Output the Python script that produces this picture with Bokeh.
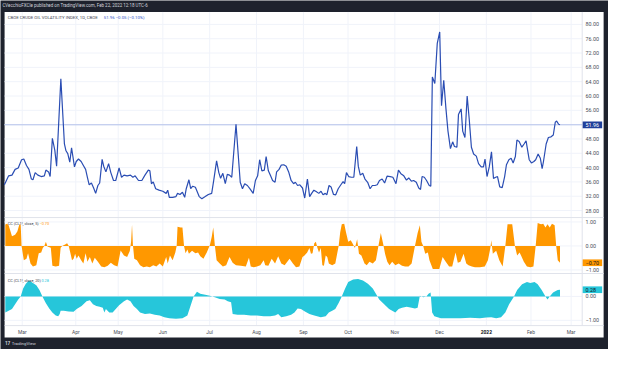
from bokeh.plotting import figure
from bokeh.models import Range1d
from bokeh.core.properties import value
from bokeh.embed import file_html
from bokeh.resources import INLINE

# ---------------- data ----------------
# trading-day index of each reading, and CBOE crude oil volatility index value
vix_bar = [0.0,1.9,3.4,4.8,6.2,7.7,8.7,9.9,11.0,12.1,
           12.8,13.8,15.0,16.5,17.9,18.6,19.8,20.5,21.5,22.6,
           23.4,25.3,26.9,27.6,28.4,29.3,30.1,30.7,31.4,32.2,
           33.2,34.4,35.4,36.4,37.2,38.0,39.0,40.0,40.9,41.9,
           42.7,43.8,44.5,45.5,46.7,47.7,48.9,49.9,51.4,52.5,
           53.6,55.0,56.5,57.6,58.6,60.1,61.6,63.0,64.5,65.2,
           65.9,66.7,67.8,69.3,71.0,72.5,73.2,73.9,75.4,76.9,
           77.6,78.7,79.8,80.8,81.5,82.7,83.5,84.4,85.6,87.3,
           88.5,90.0,91.4,92.9,93.9,95.1,96.1,96.9,97.9,99.0,
           99.9,100.9,101.9,103.8,105.7,106.7,107.7,108.9,110.0,111.5,
           112.5,113.5,114.4,115.4,116.5,117.3,118.3,119.3,120.2,121.3,
           122.0,123.1,124.1,125.2,126.3,127.4,128.5,129.6,130.4,131.4,
           132.4,133.6,134.6,135.8,136.8,137.7,138.7,139.7,140.9,141.9,
           142.8,143.8,144.5,145.5,146.4,147.5,148.5,149.6,150.8,151.8,
           152.5,153.3,154.3,155.5,156.6,157.9,158.6,159.5,160.6,161.6,
           162.8,163.9,164.9,166.1,167.1,168.1,169.3,170.4,171.5,172.9,
           174.1,175.5,176.6,177.7,179.0,180.2,181.2,182.4,183.4,184.6,
           185.7,186.5,187.2,188.2,189.2,190.4,191.1,191.8,192.9,194.0,
           195.1,195.9,196.9,197.9,198.8,199.9,200.9,201.7,202.8,203.5,
           204.7,205.4,206.4,207.4,208.3,209.3,210.3,211.5,212.5,213.7,
           214.7,215.4,216.3,217.3,218.3,219.2,220.2,221.0,222.0,223.1,
           224.2,225.0,226.1,227.1,228.0,229.0,229.7,230.7,231.9,232.9,
           233.8,234.5,235.2,236.2,237.3,238.1,239.2,240.2,241.0,241.6,
           242.8,243.8,245.0,246.0,246.9,247.5,248.4,249.0]
vix_val = [35.2,37.7,37.9,39.5,39.9,42.2,42.4,40.6,39.5,36.8,
           36.6,38.6,37.9,37.5,37.7,39.3,38.8,37.5,48.2,44.8,
           40.4,64.8,46.6,44.7,43.9,41.5,45.5,43.1,40.2,41.7,
           42.4,41.7,40.6,39.5,37.3,35.2,35.7,34.3,32.8,35.0,
           35.7,42.3,40.4,38.8,41.1,38.6,36.4,36.4,39.9,37.3,
           37.9,37.7,37.9,37.3,37.7,36.4,36.4,37.9,39.3,39.1,
           35.5,36.0,34.1,33.7,33.4,32.8,33.7,31.7,31.7,31.9,
           32.8,32.5,33.1,31.7,34.1,36.6,34.1,34.8,34.5,31.9,
           31.3,31.9,32.5,32.8,36.8,41.9,38.6,37.0,38.4,35.5,
           38.1,37.9,37.3,52.1,35.9,34.1,35.5,35.0,34.1,32.8,
           36.4,37.7,42.2,39.1,39.3,43.1,39.1,37.7,36.4,35.9,
           38.8,39.5,40.7,40.8,40.4,38.8,36.4,35.5,35.9,35.0,
           35.2,34.3,31.5,36.8,31.9,32.8,33.7,33.3,32.8,33.4,
           32.4,32.8,32.4,35.0,34.6,32.5,32.4,34.1,35.2,36.1,
           35.5,38.6,37.5,37.3,37.3,45.9,40.4,37.9,38.4,36.8,
           35.9,34.1,35.0,35.0,35.2,36.4,36.8,35.7,37.6,37.5,
           37.3,35.5,39.3,38.3,37.7,36.5,37.1,36.2,36.4,35.9,
           34.3,33.9,37.5,37.3,36.4,35.0,34.8,65.3,63.5,74.7,
           77.9,57.3,64.4,56.4,50.2,45.3,47.2,45.9,45.7,54.8,
           56.4,50.2,48.4,60.0,53.7,45.7,43.8,43.2,41.1,40.2,
           40.2,42.4,37.5,40.2,44.4,37.0,37.3,37.5,34.6,34.4,
           37.5,40.8,42.2,42.6,41.3,43.1,47.7,47.3,45.7,46.6,
           47.5,44.8,42.2,41.3,41.7,42.2,43.8,42.6,39.7,41.7,
           46.6,48.4,48.6,49.1,52.7,53.0,52.1,51.96]

# correlation coefficient CL1!, 5-period
cc5_bar = [0.4,1.2,1.9,3.4,4.8,5.8,6.7,7.3,7.7,8.7,
           9.9,10.6,11.7,12.8,14.3,15.4,16.5,17.2,17.9,18.6,
           19.3,20.8,21.5,23.0,24.5,25.2,25.9,27.4,28.1,28.8,
           29.6,30.3,31.0,31.7,32.4,33.2,34.4,35.4,36.4,37.2,
           38.3,39.4,40.5,41.9,43.4,44.8,46.3,47.7,49.2,50.7,
           52.1,53.6,55.0,56.2,56.8,57.2,57.6,58.2,59.4,60.8,
           62.3,63.8,65.2,66.7,68.1,69.6,71.0,72.5,73.2,74.2,
           75.4,76.6,77.2,77.6,79.0,79.8,80.5,81.2,82.0,82.7,
           84.1,85.6,86.8,87.8,89.2,90.7,92.1,92.9,93.6,94.3,
           95.1,96.5,97.9,99.4,100.9,102.3,103.8,106.0,108.2,109.6,
           110.4,111.8,113.2,114.7,116.2,116.9,118.3,119.8,121.3,122.7,
           124.1,125.6,127.8,129.3,130.7,132.2,133.6,134.5,135.7,136.7,
           137.4,138.1,138.9,139.6,140.3,141.0,141.8,142.5,143.2,144.0,
           144.7,145.4,146.9,148.3,149.8,150.5,151.2,152.3,153.1,154.1,
           155.2,156.0,157.1,158.1,158.9,160.0,161.4,162.4,163.6,165.1,
           166.5,167.7,168.7,169.7,170.6,171.6,172.6,173.8,175.2,176.7,
           178.2,179.6,181.1,182.5,184.0,185.2,186.2,186.9,187.7,188.6,
           189.8,190.5,192.0,193.4,194.9,196.4,197.8,199.3,200.7,202.2,
           203.2,204.4,205.8,207.0,208.0,209.5,210.9,213.1,215.3,216.7,
           217.8,218.2,218.9,220.4,221.8,223.3,224.5,225.5,227.6,228.8,
           229.8,230.9,231.7,232.8,234.2,235.7,237.1,238.1,239.0,240.5,
           241.5,242.5,243.4,244.4,245.4,246.6,247.3,248.0,249.0]
cc5_val = [0.89,0.93,0.86,0.40,0.47,0.60,0.89,0.89,0.0,-0.60,
           -0.53,-0.30,-0.73,-0.86,-0.80,-0.30,-0.27,-0.09,0.0,0.17,
           -0.02,-0.07,-0.83,-0.86,-0.83,-0.07,0.0,0.07,0.11,0.01,
           -0.30,-0.60,-0.53,-0.33,-0.53,-0.40,-0.60,-0.73,-0.30,-0.66,
           -0.46,-0.73,-0.49,-0.66,-0.86,-0.89,-0.83,-0.70,-0.80,-0.86,
           -0.19,-0.40,-0.46,-0.21,0.20,0.89,0.04,-0.53,-0.60,-0.80,
           -0.89,-0.86,-0.89,-0.80,-0.86,-0.73,-0.86,-0.46,-0.73,-0.40,
           -0.60,-0.27,0.0,0.80,0.77,0.77,0.0,-0.30,-0.15,-0.33,
           -0.20,-0.30,-0.27,-0.43,-0.53,-0.27,0.04,0.37,0.77,0.04,
           -0.60,-0.73,-0.86,-0.80,-0.46,-0.70,-0.80,-0.83,-0.86,-0.49,
           -0.86,-0.89,-0.86,-0.80,-0.60,-0.80,-0.83,-0.53,-0.73,-0.43,
           -0.73,-0.80,-0.53,-0.73,-0.89,-0.86,-0.46,-0.40,-0.27,-0.09,
           -0.33,-0.30,0.11,0.17,-0.09,-0.27,-0.09,-0.80,-0.83,-0.40,
           -0.46,-0.73,-0.80,-0.73,0.0,0.57,0.90,0.93,0.57,0.17,
           0.24,0.11,-0.09,0.28,-0.33,-0.40,-0.73,-0.80,-0.66,-0.73,
           -0.60,0.04,0.54,0.11,-0.33,-0.66,-0.80,-0.66,-0.80,-0.73,
           -0.83,-0.86,-0.86,-0.73,0.0,0.54,0.86,0.17,0.0,-0.33,
           -0.27,-0.60,-0.96,-0.96,-0.96,-0.46,-0.66,-0.86,-0.86,-0.27,
           -0.70,-0.66,-0.33,-0.73,-0.80,-0.86,-0.89,-0.89,-0.86,-0.60,
           -0.09,0.24,-0.33,-0.20,-0.60,-0.86,0.0,0.90,0.90,0.0,
           -0.40,-0.27,-0.43,-0.66,-0.86,-0.89,-0.86,0.0,0.96,0.90,
           0.93,0.77,0.90,0.77,0.93,0.86,0.0,-0.60,-0.70]

# correlation coefficient CL1!, 20-period
cc20_bar = [0.4,1.9,3.4,4.8,6.2,7.3,8.4,9.6,11.0,12.8,
            14.3,15.7,17.2,18.6,20.1,21.5,23.0,24.1,24.8,25.2,
            26.6,28.8,31.0,32.4,34.6,36.8,38.3,39.7,41.2,42.7,
            44.1,44.8,45.5,47.0,48.5,49.9,51.4,53.6,55.0,56.5,
            57.9,59.4,60.8,63.0,65.2,67.4,69.6,71.7,73.9,76.9,
            79.8,82.0,83.4,84.8,86.3,87.8,90.0,92.1,94.3,96.5,
            98.7,100.1,101.6,102.3,104.5,107.4,110.4,113.2,116.2,119.1,
            121.3,122.7,124.1,126.3,128.5,130.0,131.4,132.9,134.5,136.7,
            138.9,141.8,144.0,145.4,146.9,148.3,149.8,151.2,152.7,154.1,
            156.3,158.5,160.7,162.9,165.1,166.5,168.0,170.2,172.4,175.2,
            176.7,178.2,180.3,182.5,184.0,185.2,186.2,187.7,189.1,190.1,
            191.0,191.7,192.7,195.6,200.0,204.4,208.7,213.1,216.0,218.2,
            220.4,222.6,224.5,226.2,228.4,229.8,232.0,234.2,235.7,237.6,
            239.0,240.8,242.5,243.4,244.4,245.9,247.3,248.0,249.0]
cc20_val = [-0.67,-0.60,-0.53,-0.33,-0.13,0.0,0.33,0.53,0.67,0.56,
            0.47,0.27,-0.03,-0.29,-0.51,-0.67,-0.80,-0.83,-0.73,-0.60,
            -0.60,-0.63,-0.64,-0.53,-0.40,-0.20,-0.16,-0.33,-0.40,-0.43,
            -0.47,-0.67,-0.53,-0.67,-0.67,-0.53,-0.37,-0.20,-0.13,-0.20,
            -0.40,-0.53,-0.67,-0.73,-0.71,-0.77,-0.80,-0.87,-0.91,-0.93,
            -0.91,-0.80,-0.40,0.0,0.20,0.11,0.07,0.03,-0.03,-0.11,
            -0.13,-0.20,-0.24,-0.73,-0.77,-0.77,-0.80,-0.80,-0.83,-0.83,
            -0.80,-0.73,-0.87,-0.83,-0.77,-0.67,-0.51,-0.53,-0.62,-0.73,
            -0.80,-0.87,-0.83,-0.67,-0.60,-0.53,-0.27,0.0,0.33,0.60,
            0.71,0.73,0.67,0.53,0.33,0.11,-0.13,-0.33,-0.53,-0.67,
            -0.53,-0.47,-0.43,-0.47,-0.51,-0.47,0.03,-0.03,0.0,0.11,
            0.16,-0.67,-0.83,-0.91,-0.91,-0.91,-0.89,-0.91,-0.88,-0.87,
            -0.91,-0.87,-0.67,-0.33,0.0,0.27,0.51,0.60,0.56,0.60,
            0.51,0.27,0.0,-0.13,0.0,0.16,0.24,0.27,0.28]

month_pos = [8, 32, 51, 71, 92, 113, 134, 154, 175, 195, 216, 236, 254]
month_lbl = ["Mar", "Apr", "May", "Jun", "Jul", "Aug", "Sep", "Oct", "Nov", "Dec", "2022", "Feb", "Mar"]
price_ticks = [28, 32, 36, 40, 44, 48, 52, 56, 60, 64, 68, 72, 76, 80]
cc5_ticks = [1.0, 0.0, -1.0]
cc20_ticks = [0.0, -1.0]
last_vix, chg_vix, pct_vix = 51.96, -0.05, -0.10
last_cc5, last_cc20 = -0.70, 0.28

header_text = "CVecchioFXCle published on TradingView.com, Feb 22, 2022 12:18 UTC-6"
main_title = "CBOE CRUDE OIL VOLATILITY INDEX, 1D, CBOE"
cc5_title = "CC (CL1!, close, 5)"
cc20_title = "CC (CL1!, close, 20)"

# ---------------- layout (reference pixel geometry) ----------------
W, H = 608, 349
RW, RH = 624, 365
SX, SY = W / RW, H / RH
X0, PXB = 4.0, 2.29           # ref px of bar 0, ref px per bar

def bar_at(rx):
    return (rx - X0) / PXB

def main_at(ry):
    return 80 - (ry - 25) / 3.744

def cc5_at(ry):
    return (256.7 - ry) / 25.1

def cc20_at(ry):
    return (309.5 - ry) / 25.0

DARK = "#1e222d"
GRID = "#f0f3fa"
SEP = "#e0e3eb"
AXTXT = "#4a4e59"
BLUE = "#2a4db3"
ORANGE = "#ff9800"
CYAN = "#26c6da"
FONT = "Roboto"

p = figure(width=W, height=H, output_backend="svg", toolbar_location=None,
           x_axis_location=None, y_axis_location=None, title=None, min_border=0,
           x_range=Range1d(bar_at(0), bar_at(RW)),
           y_range=Range1d(main_at(RH), main_at(0)),
           background_fill_color=DARK, border_fill_color=DARK,
           outline_line_color=None)
p.grid.visible = False
p.extra_y_ranges = {"cc5": Range1d(cc5_at(RH), cc5_at(0)),
                    "cc20": Range1d(cc20_at(RH), cc20_at(0))}

L_EDGE, R_EDGE, T_EDGE, B_EDGE = 4.2, 619.0, 12.0, 352.5
AX_X = 597.0

def txt(x, y, s, size, color, align="left", baseline="middle", style="normal", rng="default"):
    p.text(x=x, y=y, text=s, text_font=value(FONT),
           text_font_size=value(f"{size * SY:.2f}px"), text_color=color,
           text_align=align, text_baseline=baseline, text_font_style=style,
           y_range_name=rng)

# white chart panel
p.quad(left=[bar_at(L_EDGE)], right=[bar_at(R_EDGE)], top=[main_at(T_EDGE)],
       bottom=[main_at(B_EDGE)], fill_color="white", line_color=None)

# vertical month grid
p.segment(x0=month_pos, x1=month_pos, y0=[main_at(T_EDGE)] * len(month_pos),
          y1=[main_at(340)] * len(month_pos), line_color=GRID, line_width=1)
# horizontal price grid
n = len(price_ticks)
p.segment(x0=[bar_at(L_EDGE)] * n, x1=[bar_at(AX_X)] * n, y0=price_ticks, y1=price_ticks,
          line_color=GRID, line_width=1)
p.segment(x0=[bar_at(L_EDGE)] * 3, x1=[bar_at(AX_X)] * 3, y0=cc5_ticks, y1=cc5_ticks,
          line_color=GRID, line_width=1, y_range_name="cc5")
p.segment(x0=[bar_at(L_EDGE)] * 2, x1=[bar_at(AX_X)] * 2, y0=cc20_ticks, y1=cc20_ticks,
          line_color=GRID, line_width=1, y_range_name="cc20")

# pane separators
seps = [227.0, 285.5, 340.0]
p.segment(x0=[bar_at(L_EDGE)] * 3, x1=[bar_at(R_EDGE)] * 3,
          y0=[main_at(s) for s in seps], y1=[main_at(s) for s in seps],
          line_color=SEP, line_width=1)
p.segment(x0=[bar_at(AX_X)], x1=[bar_at(AX_X)], y0=[main_at(T_EDGE)], y1=[main_at(340)],
          line_color=SEP, line_width=1)

# price line at last value
p.segment(x0=[bar_at(L_EDGE)], x1=[bar_at(AX_X)], y0=[last_vix], y1=[last_vix],
          line_color="#b4c2ea", line_width=1)

# series
p.line(vix_bar, vix_val, line_color=BLUE, line_width=1.2)
p.varea(x=cc5_bar, y1=0, y2=cc5_val, fill_color=ORANGE, y_range_name="cc5")
p.varea(x=cc20_bar, y1=0, y2=cc20_val, fill_color=CYAN, y_range_name="cc20")

def fmt(v):
    s = f"{abs(v):.2f}"
    return ("\u2212" + s) if v < 0 else s

# right axis labels
ax_lx = bar_at(600.5)
txt([ax_lx] * n, price_ticks, [fmt(t) for t in price_ticks], 5.6, AXTXT)
txt([ax_lx] * 3, cc5_ticks, [fmt(t) for t in cc5_ticks], 5.6, AXTXT, rng="cc5")
txt([ax_lx] * 2, cc20_ticks, [fmt(t) for t in cc20_ticks], 5.6, AXTXT, rng="cc20")

# last value boxes
box_x = bar_at(607.5)
bw, bh = 20 * SX, 7 * SY
p.rect(x=[box_x], y=[last_vix], width=bw, height=bh, width_units="screen",
       height_units="screen", fill_color="#1f3f9a", line_color=None)
txt([ax_lx], [last_vix], [fmt(last_vix)], 5.6, "white")
p.rect(x=[box_x], y=[last_cc5], width=bw, height=bh, width_units="screen",
       height_units="screen", fill_color=ORANGE, line_color=None, y_range_name="cc5")
txt([ax_lx], [last_cc5], [fmt(last_cc5)], 5.6, "#131722", rng="cc5")
p.rect(x=[box_x], y=[last_cc20], width=bw, height=bh, width_units="screen",
       height_units="screen", fill_color=CYAN, line_color=None, y_range_name="cc20")
txt([ax_lx], [last_cc20], [fmt(last_cc20)], 5.6, "#131722", rng="cc20")

# month labels
styles = ["bold" if l.isdigit() else "normal" for l in month_lbl]
for pos, lbl, st in zip(month_pos, month_lbl, styles):
    txt([pos], [main_at(347)], [lbl], 5.2, "#131722" if st == "bold" else AXTXT,
        align="center", style=st)

# legends
txt([bar_at(7.5)], [main_at(17.5)], [main_title], 4.5, "#434651")
txt([bar_at(106)], [main_at(17.5)],
    [f"{last_vix:.2f}  {fmt(chg_vix)} ({fmt(pct_vix)}%)"], 4.5, "#2f54c9")
txt([bar_at(7.5)], [main_at(233.5)], [cc5_title], 4.0, "#434651")
txt([bar_at(40)], [main_at(233.5)], [fmt(last_cc5)], 4.0, ORANGE)
txt([bar_at(7.5)], [main_at(292.5)], [cc20_title], 4.0, "#434651")
txt([bar_at(42)], [main_at(292.5)], [fmt(last_cc20)], 4.0, CYAN)

# header and footer
txt([bar_at(2)], [main_at(5.5)], [header_text], 4.7, "#d1d4dc")
txt([bar_at(4.5)], [main_at(358.5)], ["17"], 5.0, "#d1d4dc", style="bold")
txt([bar_at(11.5)], [main_at(358.5)], ["TradingView"], 4.6, "#d1d4dc")

open("out.html", "w").write(file_html(p, INLINE))
